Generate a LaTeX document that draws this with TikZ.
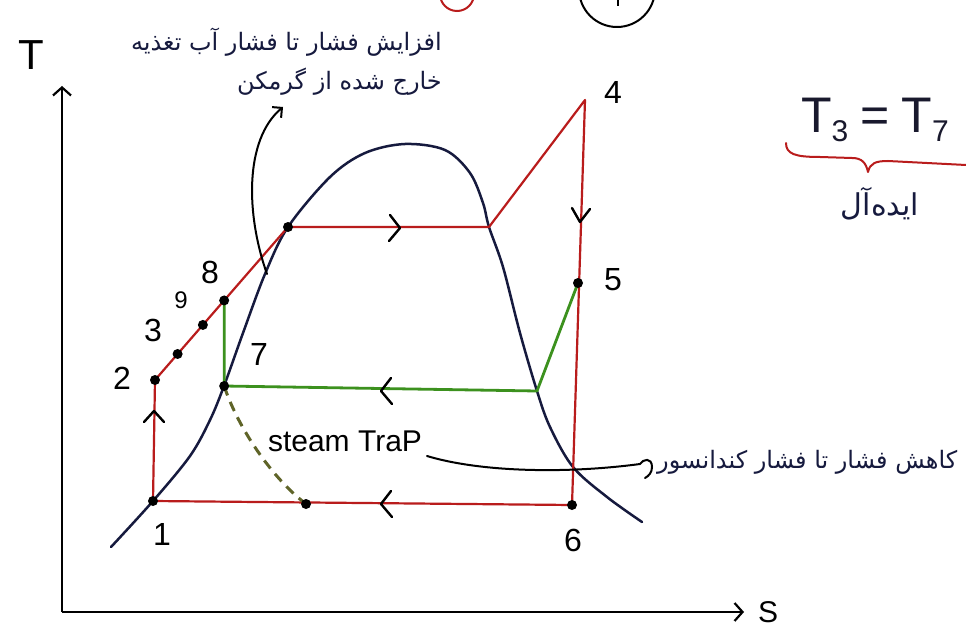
\documentclass[tikz,border=0pt]{standalone}
\usepackage{fontspec}
\setmainfont{Liberation Sans}
\newfontfamily\fafont[Script=Arabic]{DejaVu Sans}
\TeXXeTstate=1
\usetikzlibrary{arrows.meta,calc}
\definecolor{cred}{RGB}{185,28,28}
\definecolor{cgreen}{RGB}{60,145,30}
\definecolor{cnavy}{RGB}{22,26,62}
\definecolor{colive}{RGB}{95,100,40}
\definecolor{cink}{RGB}{25,25,45}
\begin{document}
\begin{tikzpicture}[x=1pt,y=-1pt,
  redl/.style={draw=cred,line width=2.2pt,line join=round},
  greenl/.style={draw=cgreen,line width=2.8pt,line join=round},
  domel/.style={draw=cnavy,line width=2.5pt,line cap=round},
  dashl/.style={draw=colive,line width=3pt,dash pattern=on 10pt off 7pt},
  axisl/.style={draw=black,line width=2.2pt,-{Straight Barb[length=8pt,width=18pt,line width=2.2pt]}},
  annot/.style={draw=black,line width=2pt,line cap=round},
  chev/.style={draw=black,line width=2.4pt,line cap=round,line join=round},
  dotp/.style={circle,fill=black,inner sep=0pt,minimum size=10pt},
  num/.style={font=\fontsize{32}{32}\selectfont,text=black,inner sep=0pt},
  fa/.style={font=\fontsize{24}{28}\selectfont\fafont,text=cnavy,inner sep=0pt}]
\useasboundingbox (0,0) rectangle (966,631);
\fill[white] (0,0) rectangle (966,631);

% partial circles at top edge
\begin{scope}
\clip (0,0) rectangle (966,631);
\draw[cred,line width=2pt] (457,-6) circle (17);
\draw[black,line width=2pt] (617,-11) circle (38);
\draw[black,line width=2pt] (618,0) -- (618,6);
\end{scope}

% axes
\coordinate (O) at (62,612);
\coordinate (Ty) at (62,86);
\coordinate (Sx) at (744,612);
\draw[axisl] (O) -- (Ty);
\draw[axisl] (O) -- (Sx);
\node[font=\fontsize{42}{42}\selectfont,inner sep=0pt] (lT) at (31,55) {T};
\node[font=\fontsize{30}{30}\selectfont,inner sep=0pt] (lS) at (768,612) {S};

% cycle points
\coordinate (P1) at (153,501);
\coordinate (P2) at (155,380);
\coordinate (PA) at (288,227);
\coordinate (P3) at ($(P2)!0.17!(PA)$);
\coordinate (P9) at ($(P2)!0.36!(PA)$);
\coordinate (P8) at ($(P2)!0.52!(PA)$);
\coordinate (PB) at (489,227);
\coordinate (P4) at (585,100);
\coordinate (P5) at (578,283);
\coordinate (P6) at (572,505);
\coordinate (P7) at (P8 |- 0,386);
\coordinate (PC) at (537,391);
\coordinate (PT) at (306,504);

% dome
\draw[domel] plot[smooth,tension=0.55] coordinates {
 (111,547) (153,501) (190,456) (210,420) (224,386) (243,333) (265,274)
 (288,227) (330,177) (365,153) (405,144) (445,150) (470,173) (483,203)
 (489,227) (503,267) (520,333) (537,391) (550,427) (573,467) (607,497) (642,522)};

% red cycle
\draw[redl] (P1) -- (P2) -- (PA) -- (PB) -- (P4) -- (P6) -- (P1);
% green
\draw[greenl] (P8) -- (P7) -- (PC) -- (P5);
% steam trap dashed
\draw[dashl] (P7) .. controls (238,428) and (272,478) .. (PT);

% chevrons
\draw[chev,shift={(400,228)}] (-10,-13) -- (0,0) -- (-11,13);
\draw[chev,shift={(381,391)}] (10,-13) -- (0,0) -- (11,13);
\draw[chev,shift={(381,504)}] (10,-13) -- (0,0) -- (11,13);
\draw[chev,shift={(154,411)}] (-10,11) -- (0,0) -- (10,11);
\draw[chev,shift={(580,222)}] (-8,-14) -- (0,0) -- (10,-13);

% dots
\foreach \p in {P1,P2,P3,P9,P8,PA,P7,P5,P6,PT}
  \node[dotp] at (\p) {};

% number labels
\node[num] (l1) at (162,534) {1};
\node[num] (l2) at (122,378) {2};
\node[num] (l3) at (153,330) {3};
\node[num,font=\fontsize{24}{24}\selectfont] (l9) at (181,300) {9};
\node[num] (l8) at (210,272) {8};
\node[num] (l7) at (259,354) {7};
\node[num] (l4) at (613,92) {4};
\node[num] (l5) at (613,280) {5};
\node[num] (l6) at (573,540) {6};

% annotation (feedwater pump)
\node[fa,anchor=east] (fa1) at (442,42) {\beginR افزایش فشار تا فشار آب تغذیه\endR};
\node[fa,anchor=east] (fa2) at (442,82) {\beginR خارج شده از گرمکن\endR};
\coordinate (A0) at (267,274);
\coordinate (A1) at (283,107);
\draw[annot,-{Straight Barb[length=7pt,width=14pt,line width=2pt]}] (A0) .. controls (246,215) and (244,140) .. (A1);

% steam trap label
\node[font=\fontsize{30}{30}\selectfont,inner sep=0pt] (st) at (345,441) {steam TraP};
\coordinate (C0) at (427,456);
\coordinate (C1) at (640,464);
\draw[annot] (C0) .. controls (480,472) and (565,474) .. (C1)
  .. controls (643,459) and (652,457) .. (652,467) .. controls (652,472) and (649,476) .. (645,478);
\node[fa,anchor=west] (fa3) at (657,462) {\beginR کاهش فشار تا فشار کندانسور\endR};

% T3 = T7
\node[font=\fontsize{50}{50}\selectfont,inner sep=0pt,text=cink] (eq) at (875,120)
  {T\raisebox{-9pt}{\fontsize{30}{30}\selectfont 3}\kern12pt=\kern12pt T\raisebox{-9pt}{\fontsize{30}{30}\selectfont 7}};
\draw[cred,line width=2pt,line cap=round,line join=round]
  (786,143) .. controls (786,154) and (795,157) .. (820,157) -- (852,158)
  .. controls (862,158) and (866,163) .. (868,172)
  .. controls (870,163) and (876,161) .. (888,161) -- (966,165);
\node[fa,font=\fontsize{30}{34}\selectfont\fafont] (fa4) at (880,204) {\beginR ایده‌آل\endR};
\end{tikzpicture}
\end{document}
